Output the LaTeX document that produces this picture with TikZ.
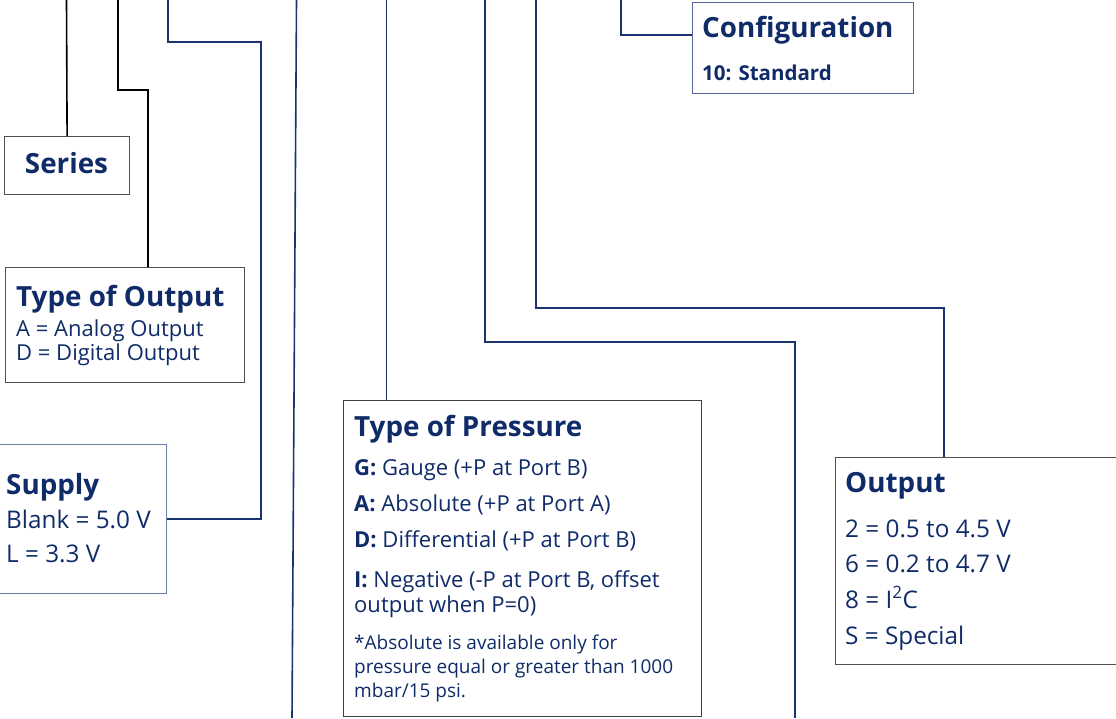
\documentclass[tikz,border=0pt]{standalone}
\usepackage{fontspec}
\setmainfont{Open Sans}
\usetikzlibrary{positioning}
\definecolor{navytext}{HTML}{0F2B68}
\definecolor{navyline}{HTML}{1A3472}
\definecolor{boxgray}{HTML}{505050}
\definecolor{boxblue}{HTML}{6A7DA8}
\newcommand\hdfont{\fontsize{27.8}{30}\selectfont\bfseries}
\newcommand\bdfont{\fontsize{22}{24}\selectfont}
\newcommand\bgfont{\fontsize{24.3}{28}\selectfont}
\newcommand\ftfont{\fontsize{19}{20}\selectfont}

\begin{document}
\begin{tikzpicture}[x=1pt, y=-1pt,
                    wire/.style={line width=1.6pt, navyline},
                    blackwire/.style={line width=1.6pt, black},
                    codebox/.style={draw=boxgray, line width=1.2pt, rectangle, anchor=north west, inner sep=0},
                    title/.style={anchor=base west, inner sep=0, text=navytext, font=\hdfont},
                    entry/.style={anchor=base west, inner sep=0, text=navytext, font=\bdfont},
                   ]

\useasboundingbox (0,0) rectangle (1116,718);
\clip (0,0) rectangle (1116,718);

% boxes
\node[codebox, minimum width=125pt, minimum height=58pt] (series) at (4,136) {};
\node[codebox, minimum width=239pt, minimum height=115pt] (tout) at (5,267) {};
\node[codebox, draw=boxblue, minimum width=168pt, minimum height=149pt] (supply) at (-2,444) {};
\node[codebox, draw=black!75, minimum width=358pt, minimum height=316pt] (press) at (343,400) {};
\node[codebox, draw=navyline!75, minimum width=221pt, minimum height=91pt] (config) at (692,2) {};
\node[codebox, minimum width=300pt, minimum height=207pt] (out) at (835,457) {};

% texts
\node[title, anchor=base] (seriest) at (66.5,173) {Series};

\node[title] (toutt) at (16,306) {Type of Output};
\node[entry] (tout1) at (16,336) {A = Analog Output};
\node[entry] (tout2) at (16,360) {D = Digital Output};

\node[title] (supplyt) at (6,494) {Supply};
\node[entry, font=\bgfont] (supply1) at (6,528) {Blank = 5.0 V};
\node[entry, font=\bgfont] (supply2) at (6,562) {L = 3.3 V};

\node[title] (presst) at (354,436) {Type of Pressure};
\node[entry] (press1) at (354,475) {{\bfseries G:} Gauge (+P at Port B)};
\node[entry] (press2) at (354,511) {{\bfseries A:} Absolute (+P at Port A)};
\node[entry] (press3) at (354,547) {{\bfseries D:} Differential (+P at Port B)};
\node[entry] (press4) at (354,587) {{\bfseries I:} Negative (-P at Port B, offset};
\node[entry] (press5) at (354,612) {output when P=0)};
\node[entry, font=\ftfont] (press6) at (354,649) {*Absolute is available only for};
\node[entry, font=\ftfont] (press7) at (354,673) {pressure equal or greater than 1000};
\node[entry, font=\ftfont] (press8) at (354,697) {mbar/15 psi.};

\node[title] (configt) at (702,37) {Configuration};
\node[entry, font=\fontsize{20.5}{24}\selectfont\bfseries] (config1) at (702,80) {10: Standard};

\node[title] (outt) at (845,492) {Output};
\node[entry, font=\bgfont] (out1) at (845,537) {2 = 0.5 to 4.5 V};
\node[entry, font=\bgfont] (out2) at (845,572) {6 = 0.2 to 4.7 V};
\node[entry, font=\bgfont] (out3) at (845,608) {8 = I\textsuperscript{2}C};
\node[entry, font=\bgfont] (out4) at (845,644) {S = Special};

% leads from the top edge
\coordinate (l1) at (66.5,0);
\coordinate (l2) at (118,0);
\coordinate (l2bend) at (148,90);
\coordinate (l3) at (168,0);
\coordinate (l3bend) at (261,42);
\coordinate (l4) at (296.5,0);
\coordinate (l4end) at (292,718);
\coordinate (l5) at (386.5,0);
\coordinate (l6) at (485,0);
\coordinate (l6end) at (795,718);
\coordinate (l7) at (536,0);
\coordinate (l7bend) at (944,308);
\coordinate (l8) at (621,0);

\draw[blackwire] (l1) -- (series.north);
\draw[blackwire] (l2) |- (l2bend) -- (l2bend |- tout.north);
\draw[wire] (l3) |- (l3bend) |- (supply.east);
\draw[wire] (l4) -- (l4end);
\draw[wire] (l5) -- (l5 |- press.north);
\draw[wire] (l6) |- (l6end |- 0,342) -- (l6end);
\draw[wire] (l7) |- (l7bend) -- (l7bend |- out.north);
\draw[wire] (l8) |- (config.west |- 0,35);

\end{tikzpicture}
\end{document}
